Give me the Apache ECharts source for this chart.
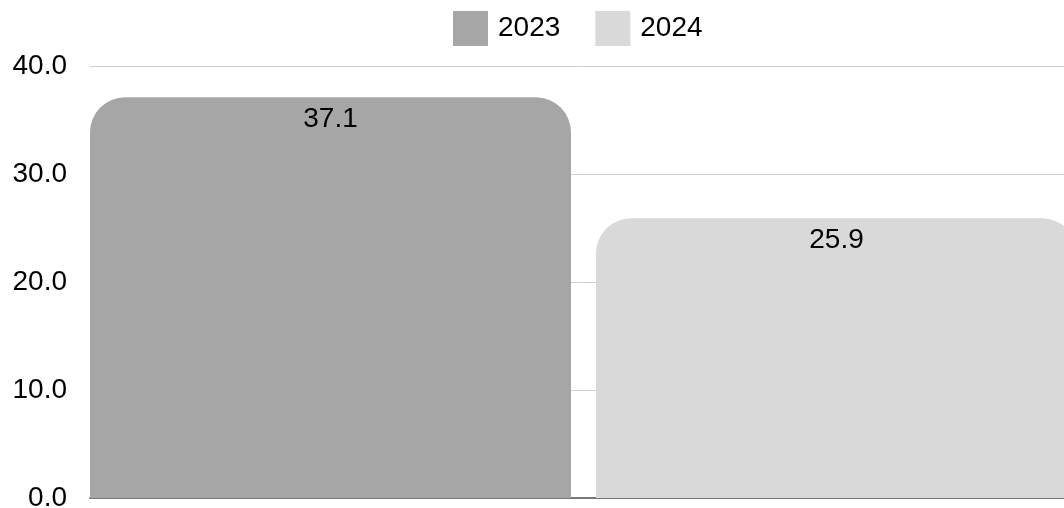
<!DOCTYPE html>
<html><head><meta charset="utf-8">
<script src="https://cdn.jsdelivr.net/npm/echarts@6/dist/echarts.min.js"></script>
<style>html,body{margin:0;padding:0;background:#fff}#c{width:1064px;height:508px}</style>
</head><body><div id="c"></div>
<script>
const categories = [''];
const seriesNames = ['2023', '2024'];
const values2023 = [37.1];
const values2024 = [25.9];
const colors = ['#a6a6a6', '#d9d9d9'];
const font = '"Liberation Sans", Arial, Helvetica, sans-serif';

const chart = echarts.init(document.getElementById('c'), null, {renderer: 'canvas'});
const mk = (name, data, color) => ({
  name, type: 'bar', data,
  itemStyle: {color, borderRadius: [35, 35, 0, 0]},
  label: {show: true, position: 'insideTop', distance: 8, color: '#000', fontSize: 28, fontFamily: font,
    formatter: p => p.value.toFixed(1)}
});
chart.setOption({
  animation: false,
  legend: {top: 6, left: 448, itemWidth: 35, itemHeight: 35, itemGap: 35,
    icon: 'rect', textStyle: {fontSize: 28, fontFamily: font, color: '#000', padding: [0, 0, 0, 5]}},
  grid: {left: 90, width: 987, top: 66, bottom: 10, containLabel: false, outerBoundsMode: 'none'},
  xAxis: {type: 'category', data: categories, axisTick: {show: false}, axisLabel: {show: false},
    axisLine: {show: true, lineStyle: {color: '#777', width: 2}}},
  yAxis: {type: 'value', min: 0, max: 40, interval: 10,
    axisLabel: {fontSize: 28, fontFamily: font, color: '#000', margin: 23, formatter: v => v.toFixed(1)},
    splitLine: {lineStyle: {color: '#d0d0d0', width: 1}}},
  series: [
    Object.assign(mk(seriesNames[0], values2023, colors[0]), {barGap: '5.2%', barCategoryGap: '0%'}),
    mk(seriesNames[1], values2024, colors[1])
  ]
});
</script></body></html>
